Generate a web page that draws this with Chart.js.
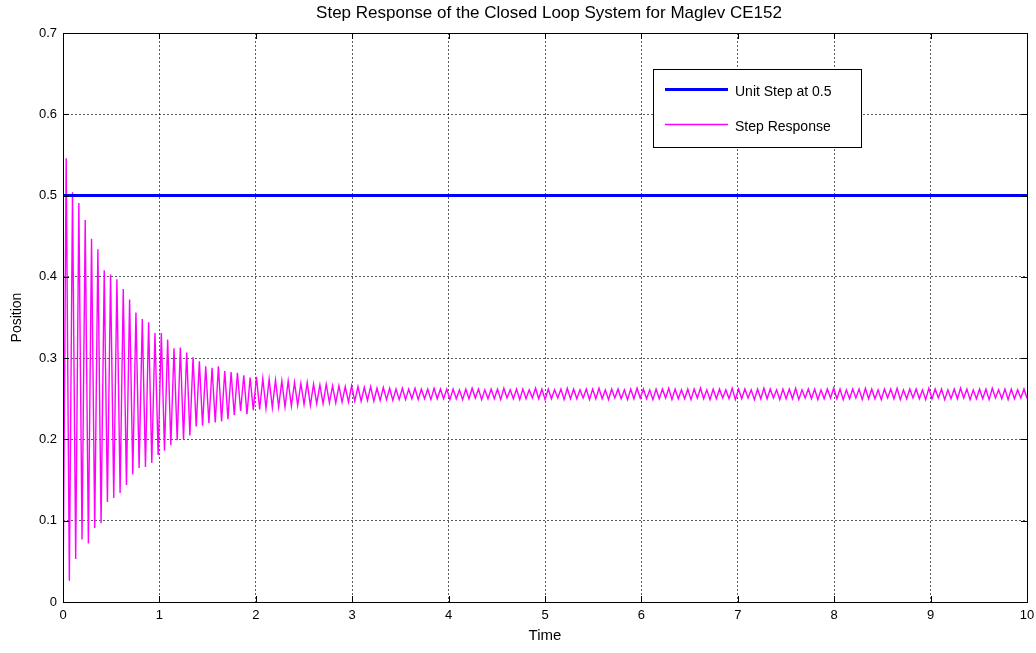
<!DOCTYPE html>
<html lang="en">
<head>
  <meta charset="UTF-8" />
  <title>Step Response of the Closed Loop System for Maglev CE152</title>
  <script src="https://cdn.jsdelivr.net/npm/chart.js"></script>
  <style>
    html, body {
      margin: 0;
      background: #fff;
    }

    .wrap {
      width: 1036px;
      height: 653px;
      position: relative;
    }
  </style>
</head>
<body>

<div class="wrap">
  <canvas id="chart"></canvas>
</div>

<script>
  const chartTitle = 'Step Response of the Closed Loop System for Maglev CE152';
  const xTitle = 'Time';
  const yTitle = 'Position';
  const stepLabel = 'Unit Step at 0.5';
  const responseLabel = 'Step Response';

  // step input level and time span
  const stepLevel = 0.5;
  const stepTimes = [0, 10];

  // response sampled at each peak / trough, spacing between samples
  const sampleStep = 0.0329;
  const startValue = 0;

  const responsePeaks = [
    0.546, 0.504, 0.491, 0.470, 0.447, 0.434, 0.408, 0.403, 0.397, 0.385,
    0.372, 0.356, 0.348, 0.344, 0.331, 0.331, 0.323, 0.312, 0.313, 0.307,
    0.301, 0.296, 0.290, 0.288, 0.290, 0.284, 0.283, 0.282, 0.279, 0.276,
    0.277, 0.275, 0.274, 0.273, 0.272, 0.272, 0.270, 0.269, 0.270, 0.268,
    0.267, 0.268, 0.266, 0.266, 0.265, 0.266, 0.265, 0.264, 0.265, 0.263,
    0.264, 0.263, 0.262, 0.263, 0.262, 0.263, 0.262, 0.262, 0.263, 0.262,
    0.262,
    0.262, 0.261, 0.262, 0.263, 0.262, 0.261, 0.262, 0.262, 0.263, 0.261,
    0.262, 0.262, 0.261, 0.263, 0.262, 0.262, 0.261, 0.262, 0.263, 0.262,
    0.261, 0.262, 0.262, 0.263, 0.261, 0.262, 0.262, 0.261, 0.262, 0.263,
    0.262, 0.261, 0.262, 0.262, 0.263, 0.262, 0.261, 0.262, 0.262, 0.263,
    0.261, 0.262, 0.262, 0.261, 0.263, 0.262, 0.262, 0.261, 0.262, 0.263,
    0.262, 0.261, 0.262, 0.262, 0.263, 0.261, 0.262, 0.262, 0.261, 0.262,
    0.263, 0.262, 0.261, 0.262, 0.262, 0.263, 0.262, 0.261, 0.262, 0.262,
    0.263, 0.261, 0.262, 0.262, 0.261, 0.263, 0.262, 0.262, 0.261, 0.262,
    0.263, 0.262, 0.261, 0.262, 0.262, 0.263, 0.261, 0.262, 0.262, 0.261,
    0.262
  ];

  const responseTroughs = [
    0.026, 0.053, 0.077, 0.072, 0.091, 0.097, 0.123, 0.128, 0.134, 0.144,
    0.157, 0.165, 0.166, 0.171, 0.181, 0.186, 0.193, 0.199, 0.200, 0.205,
    0.216, 0.217, 0.220, 0.221, 0.222, 0.225, 0.230, 0.235, 0.231, 0.236,
    0.237, 0.238, 0.239, 0.240, 0.240, 0.241, 0.242, 0.243, 0.242, 0.244,
    0.244, 0.245, 0.245, 0.246, 0.246, 0.247, 0.247, 0.248, 0.247, 0.248,
    0.249, 0.248, 0.249, 0.249, 0.250, 0.249, 0.250, 0.249, 0.250, 0.250,
    0.249,
    0.250, 0.249, 0.250, 0.251, 0.249, 0.250, 0.250, 0.249, 0.251, 0.250,
    0.249, 0.250, 0.251, 0.250, 0.249, 0.250, 0.251, 0.249, 0.250, 0.250,
    0.251, 0.249, 0.250, 0.250, 0.249, 0.251, 0.250, 0.249, 0.250, 0.251,
    0.250, 0.249, 0.250, 0.251, 0.249, 0.250, 0.250, 0.249, 0.251, 0.250,
    0.249, 0.250, 0.251, 0.250, 0.249, 0.250, 0.251, 0.249, 0.250, 0.250,
    0.251, 0.249, 0.250, 0.250, 0.249, 0.251, 0.250, 0.249, 0.250, 0.251,
    0.250, 0.249, 0.250, 0.251, 0.249, 0.250, 0.250, 0.249, 0.251, 0.250,
    0.249, 0.250, 0.251, 0.250, 0.249, 0.250, 0.251, 0.249, 0.250, 0.250,
    0.251, 0.249, 0.250, 0.250, 0.249, 0.251, 0.250, 0.249, 0.250, 0.251,
    0.250
  ];

  // axis ranges
  const xRange = [0, 10];
  const yRange = [0, 0.7];
  const xTickStep = 1;
  const yTickStep = 0.1;

  const FONT = 'Liberation Sans, Arial, sans-serif';

  // build {x,y} points for the library
  const stepData = stepTimes.map(t => ({ x: t, y: stepLevel }));
  const responseData = [{ x: 0, y: startValue }];
  responsePeaks.forEach((p, i) => {
    responseData.push({ x: (2 * i + 1) * sampleStep, y: p });
    responseData.push({ x: (2 * i + 2) * sampleStep, y: responseTroughs[i] });
  });

  // box, inward ticks, title and legend like the original figure
  const figurePlugin = {
    id: 'figure',
    afterDatasetsDraw(chart) {
      const { ctx, chartArea: a, scales } = chart;
      ctx.save();
      ctx.strokeStyle = '#000';
      ctx.lineWidth = 1;
      ctx.beginPath();
      scales.x.ticks.forEach(t => {
        const px = Math.round(scales.x.getPixelForValue(t.value)) + 0.5;
        ctx.moveTo(px, a.bottom); ctx.lineTo(px, a.bottom - 6);
        ctx.moveTo(px, a.top); ctx.lineTo(px, a.top + 6);
      });
      scales.y.ticks.forEach(t => {
        const py = Math.round(scales.y.getPixelForValue(t.value)) + 0.5;
        ctx.moveTo(a.left, py); ctx.lineTo(a.left + 6, py);
        ctx.moveTo(a.right, py); ctx.lineTo(a.right - 6, py);
      });
      ctx.stroke();
      ctx.strokeRect(Math.round(a.left) + 0.5, Math.round(a.top) + 0.5,
        Math.round(a.right - a.left), Math.round(a.bottom - a.top));

      // title over the plot area
      ctx.fillStyle = '#000';
      ctx.font = '17px ' + FONT;
      ctx.textAlign = 'center';
      ctx.textBaseline = 'middle';
      ctx.fillText(chartTitle, (a.left + a.right) / 2 + 4, 13);

      // legend box
      const lx = 653, ly = 69, lw = 208, lh = 78;
      ctx.fillStyle = '#fff';
      ctx.fillRect(lx, ly, lw, lh);
      ctx.strokeStyle = '#000';
      ctx.strokeRect(lx + 0.5, ly + 0.5, lw, lh);
      const rows = [
        { ds: chart.data.datasets[0], y: 89.5 },
        { ds: chart.data.datasets[1], y: 124.5 }
      ];
      ctx.font = '14px ' + FONT;
      ctx.textAlign = 'left';
      rows.forEach(r => {
        ctx.strokeStyle = r.ds.borderColor;
        ctx.lineWidth = r.ds.borderWidth;
        ctx.beginPath();
        ctx.moveTo(665, r.y);
        ctx.lineTo(728, r.y);
        ctx.stroke();
        ctx.fillStyle = '#000';
        ctx.fillText(r.ds.label, 735, r.y + 3);
      });
      ctx.restore();
    }
  };

  new Chart(document.getElementById('chart'), {
    type: 'line',
    data: {
      datasets: [
        {
          label: stepLabel,
          data: stepData,
          borderColor: '#0000ff',
          borderWidth: 3,
          pointRadius: 0,
          tension: 0
        },
        {
          label: responseLabel,
          data: responseData,
          borderColor: '#ff00ff',
          borderWidth: 1.4,
          pointRadius: 0,
          tension: 0
        }
      ]
    },
    options: {
      responsive: true,
      maintainAspectRatio: false,
      animation: false,
      layout: { padding: { top: 33, right: 9, bottom: 0, left: 0 } },
      plugins: {
        legend: { display: false },
        title: { display: false },
        tooltip: { enabled: false }
      },
      scales: {
        x: {
          type: 'linear',
          min: xRange[0],
          max: xRange[1],
          afterFit: s => { s.height = 51; s.paddingRight = 0; s.paddingLeft = 0; },
          ticks: {
            stepSize: xTickStep,
            color: '#000',
            padding: 6,
            maxRotation: 0,
            font: { family: FONT, size: 13 }
          },
          grid: { color: 'rgba(0,0,0,0.65)', drawTicks: false },
          border: { display: false, dash: [2, 2] },
          title: {
            display: true,
            text: xTitle,
            color: '#000',
            font: { family: FONT, size: 15 },
            padding: { top: 0, bottom: 8 }
          }
        },
        y: {
          min: yRange[0],
          max: yRange[1],
          afterFit: s => { s.width = 63; },
          ticks: {
            stepSize: yTickStep,
            color: '#000',
            padding: 6,
            font: { family: FONT, size: 13 },
            callback: v => (v === 0 ? '0' : v.toFixed(1))
          },
          grid: { color: 'rgba(0,0,0,0.65)', drawTicks: false },
          border: { display: false, dash: [2, 2] },
          title: {
            display: true,
            text: yTitle,
            color: '#000',
            font: { family: FONT, size: 14 },
            padding: { top: 9, bottom: 0 }
          }
        }
      }
    },
    plugins: [figurePlugin]
  });
</script>

</body>
</html>
